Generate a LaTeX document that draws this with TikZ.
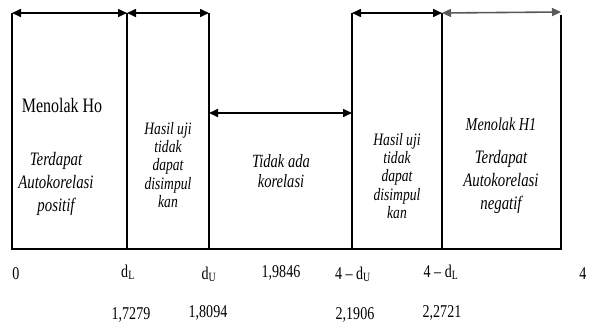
\documentclass[tikz,border=0pt]{standalone}
\usepackage{fontspec}
\setmainfont[FakeStretch=0.78]{Liberation Serif}
\usetikzlibrary{arrows.meta}
\begin{document}
\begin{tikzpicture}[x=1pt,y=-1pt,
  bound/.style={line width=1.6pt},
  span/.style={line width=1.6pt,
    {Triangle[length=9pt,width=8pt]}-{Triangle[length=9pt,width=8pt]}},
  axislabel/.style={font=\fontsize{18}{20}\selectfont, inner sep=0pt, anchor=base},
  region/.style={align=center, inner sep=0pt},
]
\useasboundingbox (0,0) rectangle (595,324);

% boundaries of the regions on the Durbin-Watson scale
\coordinate (b0t) at (12,13);  \coordinate (b0b) at (12,249);
\coordinate (b1t) at (127,13); \coordinate (b1b) at (127,249);
\coordinate (b2t) at (209,13); \coordinate (b2b) at (209,249);
\coordinate (b3t) at (352,13); \coordinate (b3b) at (352,249);
\coordinate (b4t) at (442,13); \coordinate (b4b) at (442,249);
\coordinate (b5t) at (561,15); \coordinate (b5b) at (561,249);
\coordinate (a5)  at (561,12);
\coordinate (m2)  at (209,113); \coordinate (m3) at (352,113);

\draw[bound] (b0t) -- (b0b) -- (b5b) -- (b5t);
\draw[bound] (b1t) -- (b1b);
\draw[bound] (b2t) -- (b2b);
\draw[bound] (b3t) -- (b3b);
\draw[bound] (b4t) -- (b4b);

% spans of the regions
\draw[span] (b0t) -- (b1t);
\draw[span] (b1t) -- (b2t);
\draw[span] (m2) -- (m3);
\draw[span] (b3t) -- (b4t);
\draw[span, draw=black!65, fill=black!65] (b4t) -- (a5);

% region texts
\node[region, font=\fontsize{20.5}{22}\selectfont] (rejH0) at (62,105) {Menolak Ho};
\node[region, font=\fontsize{19}{23}\selectfont\itshape] (pos) at (56,184)
  {Terdapat\\Autokorelasi\\positif};
\node[region, font=\fontsize{17.4}{18.4}\selectfont\itshape] (inc1) at (168,165)
  {Hasil uji\\tidak\\dapat\\disimpul\\kan};
\node[region, font=\fontsize{18.7}{20}\selectfont\itshape] (none) at (281,171)
  {Tidak ada\\korelasi};
\node[region, font=\fontsize{17.4}{18.4}\selectfont\itshape] (inc2) at (397,176)
  {Hasil uji\\tidak\\dapat\\disimpul\\kan};
\node[region, font=\fontsize{18.2}{20}\selectfont\itshape] (rejH1) at (501,124) {Menolak H1};
\node[region, font=\fontsize{19}{23}\selectfont\itshape] (neg) at (501,182)
  {Terdapat\\Autokorelasi\\negatif};

% scale labels
\node[axislabel] (l0)  at (16,279)  {0};
\node[axislabel] (lL)  at (128,277) {d\textsubscript{L}};
\node[axislabel] (lU)  at (209,279) {d\textsubscript{U}};
\node[axislabel] (lm)  at (281,277) {1,9846};
\node[axislabel] (lU2) at (353,279) {4 – d\textsubscript{U}};
\node[axislabel] (lL2) at (441,277) {4 – d\textsubscript{L}};
\node[axislabel] (l4)  at (583,279) {4};

% critical values
\node[axislabel] (vL)  at (131,319) {1,7279};
\node[axislabel] (vU)  at (208,317) {1,8094};
\node[axislabel] (vU2) at (355,319) {2,1906};
\node[axislabel] (vL2) at (442,317) {2,2721};
\end{tikzpicture}
\end{document}
